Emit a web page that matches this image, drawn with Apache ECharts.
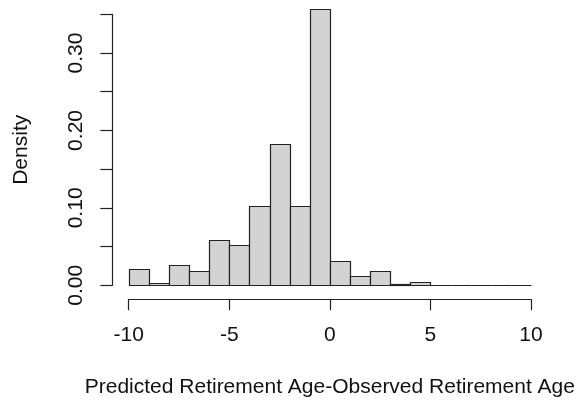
<!DOCTYPE html>
<html>
<head>
<meta charset="utf-8">
<script src="https://cdn.jsdelivr.net/npm/echarts@6/dist/echarts.min.js"></script>
<style>html,body{margin:0;padding:0;background:#fff;}#c{width:580px;height:405px;}</style>
</head>
<body>
<div id="c"></div>
<script>
// Histogram bin breaks (width 1) and densities
const binStarts = [-10,-9,-8,-7,-6,-5,-4,-3,-2,-1,0,1,2,3,4,5,6,7,8,9];
const binEnds   = [-9,-8,-7,-6,-5,-4,-3,-2,-1,0,1,2,3,4,5,6,7,8,9,10];
const densities = [0.021,0.003,0.026,0.019,0.058,0.052,0.102,0.182,0.103,0.357,0.031,0.012,0.018,0.0015,0.004,0,0,0,0,0];
const xTicks = [-10,-5,0,5,10];
const yLabelTicks = ['0.00','0.10','0.20','0.30'];
const xTitle = 'Predicted Retirement Age-Observed Retirement Age';
const yTitle = 'Density';

const FONT = '"Liberation Sans", Arial, sans-serif';
const data = binStarts.map((s, i) => [s, binEnds[i], densities[i]]);

const chart = echarts.init(document.getElementById('c'), null, {renderer: 'canvas'});
chart.setOption({
  animation: false,
  backgroundColor: '#ffffff',
  grid: {left: 128.7, right: 49, top: 14.3, bottom: 119.7},
  xAxis: {
    type: 'value', min: xTicks[0], max: xTicks[xTicks.length - 1], interval: 5,
    offset: 14,
    axisLine: {show: true, onZero: false, lineStyle: {color: '#222', width: 1.2}},
    axisTick: {show: true, length: 11, lineStyle: {color: '#222', width: 1.2}},
    splitLine: {show: false},
    axisLabel: {color: '#111', fontFamily: FONT, fontSize: 21, margin: 25,
      formatter: v => String(v)},
    name: xTitle, nameLocation: 'middle', nameGap: 77,
    nameTextStyle: {color: '#111', fontFamily: FONT, fontSize: 21}
  },
  yAxis: {
    type: 'value', min: 0, max: 0.35, interval: 0.05,
    offset: 16.4,
    axisLine: {show: true, onZero: false, lineStyle: {color: '#222', width: 1.2}},
    axisTick: {show: true, length: 12, lineStyle: {color: '#222', width: 1.2}},
    splitLine: {show: false},
    axisLabel: {color: '#111', fontFamily: FONT, fontSize: 21, rotate: 90, margin: 26,
      formatter: v => {
        const s = v.toFixed(2);
        return yLabelTicks.indexOf(s) >= 0 ? s : '';
      }},
    name: yTitle, nameLocation: 'middle', nameGap: 81, nameRotate: 90,
    nameTextStyle: {color: '#111', fontFamily: FONT, fontSize: 21}
  },
  series: [{
    type: 'custom',
    data: data,
    encode: {x: [0, 1], y: 2},
    renderItem: function (params, api) {
      const p0 = api.coord([api.value(0), api.value(2)]);
      const p1 = api.coord([api.value(1), 0]);
      const x0 = Math.round(p0[0]) + 0.5, x1 = Math.round(p1[0]) + 0.5;
      const y0 = Math.round(p0[1]) + 0.5, y1 = Math.round(p1[1]) + 0.5;
      return {
        type: 'rect',
        shape: {x: x0, y: y0, width: x1 - x0, height: y1 - y0},
        style: {fill: '#d3d3d3', stroke: '#222', lineWidth: 1.2}
      };
    }
  }]
});
</script>
</body>
</html>
